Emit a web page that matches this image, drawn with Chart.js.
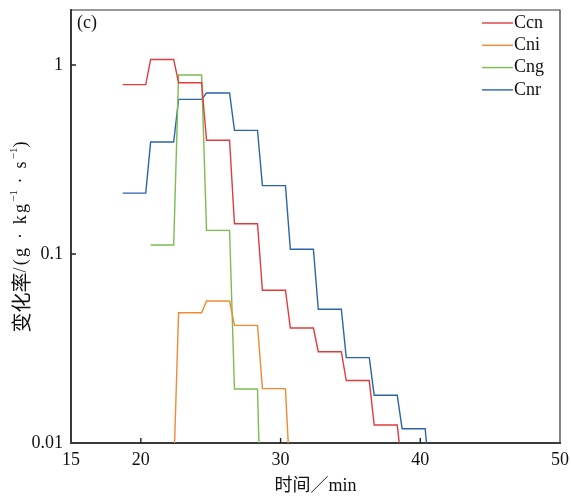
<!DOCTYPE html>
<html>
<head>
<meta charset="utf-8">
<script src="https://cdn.jsdelivr.net/npm/chart.js@4.4.1/dist/chart.umd.min.js"></script>
<style>
  body { margin: 0; background: #fff; }
  #wrap { width: 571px; height: 497px; }
</style>
</head>
<body>
<div id="wrap"><canvas id="rateChart"></canvas></div>
<script>
'use strict';

// time steps (min): each value holds from stepStart to stepEnd
const stepStart = [18.7, 20.7, 22.7, 24.7, 26.7, 28.7, 30.7, 32.7, 34.7, 36.7, 38.7, 40.7];
const stepEnd   = [20.35, 22.35, 24.35, 26.35, 28.35, 30.35, 32.35, 34.35, 36.35, 38.35, 40.35, 42.35];

const ccn = [0.787, 1.07, 0.806, 0.400, 0.1446, 0.0643, 0.0406, 0.0304, 0.0214, 0.01245, 0.0073, null];
const cni = [null, 0.007, 0.0489, 0.0564, 0.0419, 0.0194, 0.006, null, null, null, null, null];
const cng = [null, 0.1116, 0.885, 0.1334, 0.0193, 0.002, null, null, null, null, null, null];
const cnr = [0.210, 0.391, 0.658, 0.711, 0.451, 0.230, 0.106, 0.0510, 0.0283, 0.0179, 0.0119, 0.0063];

const seriesNames = ['Ccn', 'Cni', 'Cng', 'Cnr'];
const seriesColors = ['#e23b3d', '#f08a32', '#7cbd4f', '#2a65aa'];

const xTicks = [15, 20, 30, 40, 50];
const yTicks = [0.01, 0.1, 1];
const yTickLabels = ['0.01', '0.1', '1'];

const panelLabel = '(c)';
const xTitle = '时间／min';
const yTitleCjk = '变化率';

const serif = '"Liberation Serif", "Noto Sans CJK SC", serif';
const cjk = '"Noto Sans CJK SC", serif';

// each value becomes a flat segment
const toPoints = (values) => {
    const pts = [];
    values.forEach((v, i) => {
        if (v === null) return;
        pts.push({x: stepStart[i], y: v});
        pts.push({x: stepEnd[i], y: v});
    });
    return pts;
};

const allSeries = [ccn, cni, cng, cnr];

const datasets = allSeries.map((vals, i) => ({
    label: seriesNames[i],
    data: toPoints(vals),
    borderColor: seriesColors[i],
    backgroundColor: seriesColors[i],
    borderWidth: 1.4,
    pointRadius: 0,
    tension: 0,
    fill: false
}));

const decorations = {
    id: 'decorations',
    afterDraw(chart) {
        const ctx = chart.ctx;
        const area = chart.chartArea;
        const xs = chart.scales.x;
        const ys = chart.scales.y;
        ctx.save();

        // top and right frame
        ctx.strokeStyle = '#333';
        ctx.lineWidth = 1.2;
        ctx.beginPath();
        ctx.moveTo(area.left, area.top);
        ctx.lineTo(area.right, area.top);
        ctx.lineTo(area.right, area.bottom);
        ctx.stroke();

        // inward ticks
        ctx.lineWidth = 1.4;
        ctx.strokeStyle = '#222';
        ctx.beginPath();
        xTicks.forEach(v => {
            if (v === xs.min || v === xs.max) return;
            const px = xs.getPixelForValue(v);
            ctx.moveTo(px, area.bottom);
            ctx.lineTo(px, area.bottom - 5);
        });
        yTicks.forEach(v => {
            if (v === ys.min) return;
            const py = ys.getPixelForValue(v);
            ctx.moveTo(area.left, py);
            ctx.lineTo(area.left + 5, py);
        });
        ctx.stroke();

        // panel label
        ctx.fillStyle = '#111';
        ctx.font = '18px ' + serif;
        ctx.textAlign = 'left';
        ctx.textBaseline = 'middle';
        ctx.fillText(panelLabel, area.left + 6, area.top + 13);

        // legend
        chart.data.datasets.forEach((ds, i) => {
            const y = area.top + 13 + i * 22.3;
            ctx.strokeStyle = ds.borderColor;
            ctx.lineWidth = 1.4;
            ctx.beginPath();
            ctx.moveTo(area.right - 78, y);
            ctx.lineTo(area.right - 47, y);
            ctx.stroke();
            ctx.fillStyle = '#111';
            ctx.fillText(ds.label, area.right - 46, y);
        });

        // y axis title with superscripts
        ctx.translate(21, 237);
        ctx.rotate(-Math.PI / 2);
        const parts = [
            [yTitleCjk, '20px ' + cjk, 0, 0],
            ['/(g · kg', '18px ' + serif, 0, 2.2],
            ['−1', '11px ' + serif, -7, 0],
            [' · s', '18px ' + serif, 0, 2.2],
            ['−1', '11px ' + serif, -7, 0],
            [')', '18px ' + serif, 0, 0]
        ];
        let total = 0;
        parts.forEach(p => {
            ctx.font = p[1];
            ctx.letterSpacing = p[3] + 'px';
            total += ctx.measureText(p[0]).width;
        });
        let cx = -total / 2;
        parts.forEach(p => {
            ctx.font = p[1];
            ctx.letterSpacing = p[3] + 'px';
            ctx.fillText(p[0], cx, p[2]);
            cx += ctx.measureText(p[0]).width;
        });
        ctx.restore();
    }
};

new Chart('rateChart', {
    type: 'line',
    data: {datasets: datasets},
    options: {
        responsive: true,
        maintainAspectRatio: false,
        animation: false,
        parsing: false,
        layout: {padding: {top: 10, right: 11, left: 0, bottom: 0}},
        plugins: {
            legend: {display: false},
            tooltip: {enabled: false}
        },
        scales: {
            x: {
                type: 'linear',
                min: 15,
                max: 50,
                afterBuildTicks: s => { s.ticks = xTicks.map(v => ({value: v})); },
                afterFit: s => { s.height = 54; s.paddingLeft = 0; s.paddingRight = 0; },
                grid: {display: false, drawTicks: false},
                border: {display: true, color: '#3a3a3a', width: 2},
                ticks: {
                    color: '#111',
                    font: {family: serif, size: 18},
                    padding: 6,
                    maxRotation: 0
                },
                title: {
                    display: true,
                    text: xTitle,
                    color: '#111',
                    font: {family: serif, size: 18},
                    padding: {top: 2, bottom: 0}
                }
            },
            y: {
                type: 'logarithmic',
                min: 0.01,
                max: 1.954,
                afterBuildTicks: s => { s.ticks = yTicks.map(v => ({value: v})); },
                afterFit: s => { s.width = 71; s.paddingTop = 0; s.paddingBottom = 0; },
                grid: {display: false, drawTicks: false},
                border: {display: true, color: '#3a3a3a', width: 2},
                ticks: {
                    color: '#111',
                    font: {family: serif, size: 18},
                    padding: 8,
                    callback: (v, i) => yTickLabels[i]
                }
            }
        }
    },
    plugins: [decorations]
});
</script>
</body>
</html>
